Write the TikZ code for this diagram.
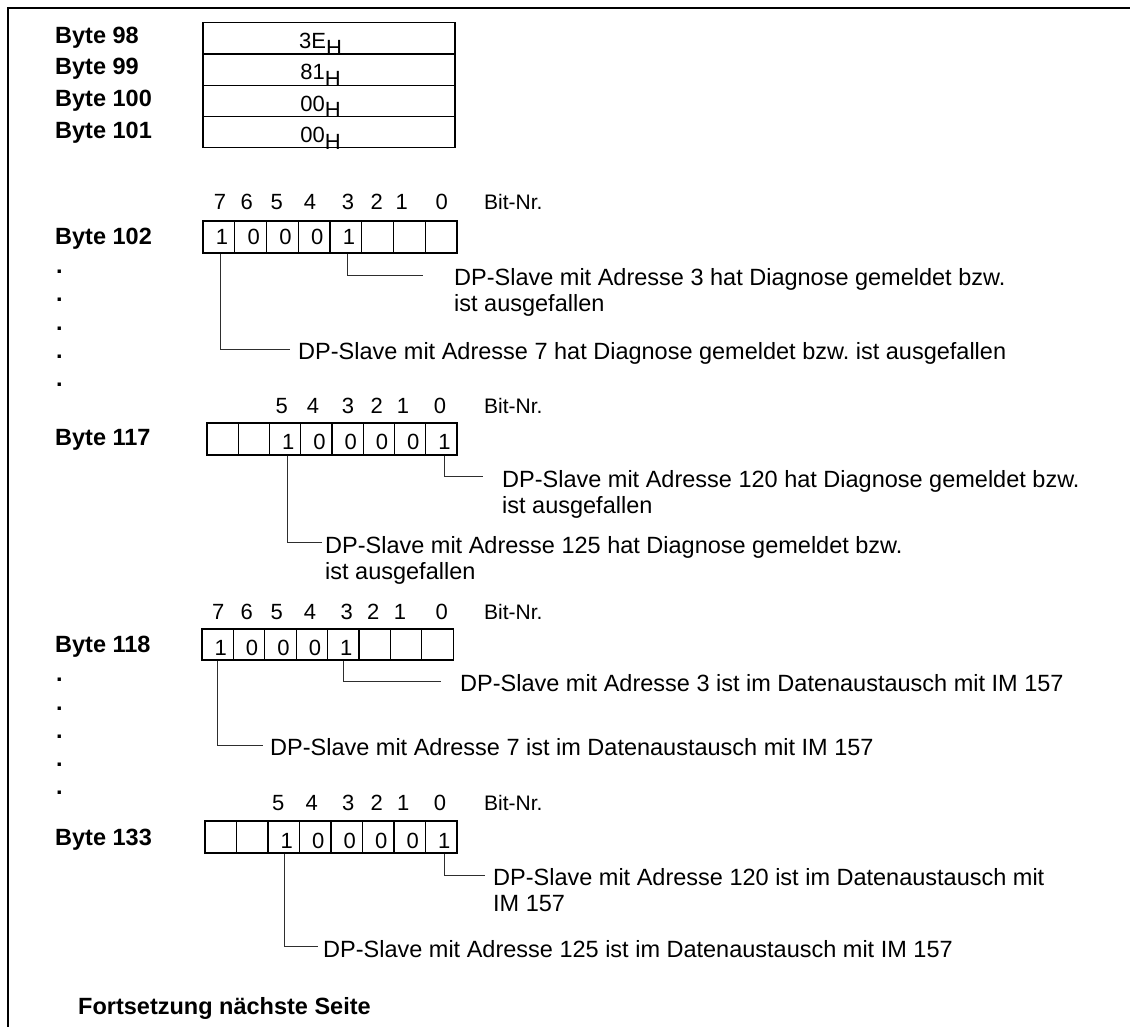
\documentclass[tikz,border=0pt]{standalone}
\usepackage{fontspec}
\setmainfont{Liberation Sans}
\usetikzlibrary{positioning}
\frenchspacing
\definecolor{DiagInk}{HTML}{000000}
\definecolor{DiagLead}{HTML}{2E2E2E}
\tikzset{
  diag frame/.style={draw=DiagInk,line width=1.6pt},
  byte label/.style={
    anchor=base west,
    inner sep=0pt,
    text=DiagInk,
    font=\fontsize{23.5}{27}\selectfont\bfseries
  },
  byte row/.style={
    draw=DiagInk,
    line width=1.2pt,
    minimum width=252pt,
    minimum height=31.3pt,
    inner sep=0pt,
    text height=26pt,
    text depth=5.3pt,
    font=\fontsize{22}{24}\selectfont
  },
  bit cell/.style={draw=DiagInk,line width=1.2pt,minimum height=32pt,inner sep=0pt},
  bit value/.style={anchor=base,inner sep=0pt,font=\fontsize{22}{24}\selectfont},
  bit number/.style={anchor=base,inner sep=0pt,font=\fontsize{22}{24}\selectfont},
  bit caption/.style={anchor=base west,inner sep=0pt,font=\fontsize{21}{24}\selectfont},
  slave text/.style={anchor=base west,inner sep=0pt,font=\fontsize{23.5}{26.7}\selectfont},
  slave lead/.style={draw=DiagLead,line width=1pt},
  skip dot/.style={anchor=base west,inner sep=0pt,font=\fontsize{23.5}{27}\selectfont\bfseries}
}
\newcommand{\hexval}[1]{#1\raisebox{-6.5pt}{H}\hspace*{17pt}}
\newcommand{\twoline}[2]{\vtop{\hbox{#1}\hbox{#2}}}

\begin{document}
\begin{tikzpicture}[x=1pt,y=-1pt]
  \useasboundingbox (0,0) rectangle (1130,1027);
  \draw[diag frame] (8,1027) -- (8,8) -- (1130,8);

  \node[byte row] (r98) at (329,38.35) {\hexval{3E}};
  \node[byte row] (r99) at (329,69.65) {\hexval{81}};
  \node[byte row] (r100) at (329,100.95) {\hexval{00}};
  \node[byte row] (r101) at (329,132.25) {\hexval{00}};
  \node[byte label] (l98) at (55,43.3) {Byte 98};
  \node[byte label] (l99) at (55,75) {Byte 99};
  \node[byte label] (l100) at (55,106.7) {Byte 100};
  \node[byte label] (l101) at (55,138.3) {Byte 101};

  \node[byte label] (l102) at (55,245) {Byte 102};
  \foreach \i in {0,...,7}
    \node[bit cell,minimum width=31.75pt] (c102-\i) at ({203+31.75*(\i+0.5)},237) {};
  \foreach \i/\v in {0/1,1/0,2/0,3/0,4/1}
    \node[bit value] (v102-\i) at ({206+31.75*(\i+0.5)},245) {\v};
  \foreach \x/\n in {220/7,246.7/6,276.7/5,310/4,348/3,376.7/2,401.7/1,441.7/0}
    \node[bit number] (n102-\n) at (\x,209.3) {\n};
  \node[bit caption] (bn102) at (484,209.3) {Bit-Nr.};
  \foreach \y [count=\k] in {273.3,301.7,330,358.3,386.7}
    \node[skip dot] (d102-\k) at (56,\y) {.};
  \coordinate (e102a) at (423,275);
  \coordinate (e102b) at (290,349);
  \node[slave text] (t102a) at (454,285) {\twoline{DP-Slave mit Adresse 3 hat Diagnose gemeldet bzw.}{ist ausgefallen}};
  \node[slave text] (t102b) at (298,359) {DP-Slave mit Adresse 7 hat Diagnose gemeldet bzw. ist ausgefallen};
  \draw[slave lead] ([xshift=2pt]c102-4.south) |- (e102a);
  \draw[slave lead] ([xshift=2pt]c102-0.south) |- (e102b);

  \node[byte label] (l117) at (55,445) {Byte 117};
  \foreach \i in {0,...,7}
    \node[bit cell,minimum width=31.25pt] (c117-\i) at ({207+31.25*(\i+0.5)},439) {};
  \foreach \i/\v in {2/1,3/0,4/0,5/0,6/0,7/1}
    \node[bit value] (v117-\i) at ({210+31.25*(\i+0.5)},449.3) {\v};
  \foreach \x/\n in {281.7/5,313/4,348/3,376.7/2,403/1,440/0}
    \node[bit number] (n117-\n) at (\x,413.3) {\n};
  \node[bit caption] (bn117) at (484,413.3) {Bit-Nr.};
  \coordinate (e117a) at (483,476.7);
  \coordinate (e117b) at (322,542.7);
  \node[slave text] (t117a) at (502,487) {\twoline{DP-Slave mit Adresse 120 hat Diagnose gemeldet bzw.}{ist ausgefallen}};
  \node[slave text] (t117b) at (325,553) {\twoline{DP-Slave mit Adresse 125 hat Diagnose gemeldet bzw.}{ist ausgefallen}};
  \draw[slave lead] ([xshift=3pt]c117-7.south) |- (e117a);
  \draw[slave lead] ([xshift=2pt]c117-2.south) |- (e117b);

  \node[byte label] (l118) at (55,652.7) {Byte 118};
  \foreach \i in {0,...,7}
    \node[bit cell,minimum width=31.4pt,minimum height=31pt] (c118-\i) at ({202+31.4*(\i+0.5)},644.5) {};
  \foreach \i/\v in {0/1,1/0,2/0,3/0,4/1}
    \node[bit value] (v118-\i) at ({205+31.4*(\i+0.5)},655) {\v};
  \foreach \x/\n in {218.3/7,246.7/6,276.7/5,310/4,346.7/3,373.3/2,400/1,441.7/0}
    \node[bit number] (n118-\n) at (\x,619.3) {\n};
  \node[bit caption] (bn118) at (484,619.3) {Bit-Nr.};
  \foreach \y [count=\k] in {681,710,738.7,766.7,794.7}
    \node[skip dot] (d118-\k) at (56,\y) {.};
  \coordinate (e118a) at (441,681.7);
  \coordinate (e118b) at (263,745);
  \node[slave text] (t118a) at (460,691.7) {DP-Slave mit Adresse 3 ist im Datenaustausch mit IM 157};
  \node[slave text] (t118b) at (270,755) {DP-Slave mit Adresse 7 ist im Datenaustausch mit IM 157};
  \draw[slave lead] (c118-4.south) |- (e118a);
  \draw[slave lead] (c118-0.south) |- (e118b);

  \node[byte label] (l133) at (55,845) {Byte 133};
  \foreach \i in {0,...,7}
    \node[bit cell,minimum width=31.5pt] (c133-\i) at ({205+31.5*(\i+0.5)},837) {};
  \foreach \i/\v in {2/1,3/0,4/0,5/0,6/0,7/1}
    \node[bit value] (v133-\i) at ({208+31.5*(\i+0.5)},848.3) {\v};
  \foreach \x/\n in {278.3/5,311.7/4,348.3/3,376.7/2,403.3/1,440/0}
    \node[bit number] (n133-\n) at (\x,810) {\n};
  \node[bit caption] (bn133) at (484,810) {Bit-Nr.};
  \coordinate (e133a) at (485,875);
  \coordinate (e133b) at (318,946.7);
  \node[slave text] (t133a) at (493,885) {\twoline{DP-Slave mit Adresse 120 ist im Datenaustausch mit}{IM 157}};
  \node[slave text] (t133b) at (323,957) {DP-Slave mit Adresse 125 ist im Datenaustausch mit IM 157};
  \draw[slave lead] ([xshift=3pt]c133-7.south) |- (e133a);
  \draw[slave lead] ([xshift=1pt]c133-2.south) |- (e133b);

  \node[byte label] (fort) at (78,1014.3) {Fortsetzung nächste Seite};
\end{tikzpicture}
\end{document}
